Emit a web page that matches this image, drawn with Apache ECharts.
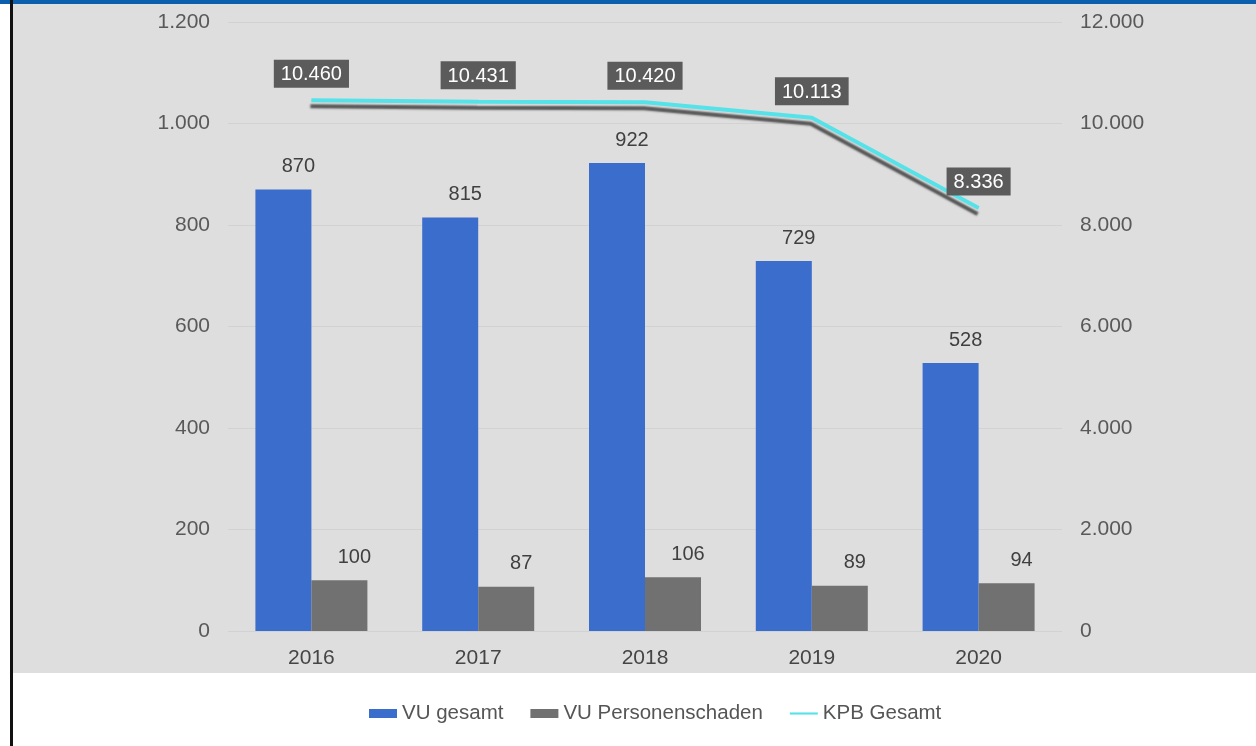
<!DOCTYPE html>
<html>
<head>
<meta charset="utf-8">
<script src="https://cdn.jsdelivr.net/npm/echarts@6/dist/echarts.min.js"></script>
<style>
  html, body { margin: 0; padding: 0; background: #ffffff; }
  #wrap { position: relative; width: 1256px; height: 746px; overflow: hidden; background: #ffffff; }
  #panel { position: absolute; left: 13px; top: 0; width: 1243px; height: 673px; background: #dedede; }
  #topbar { position: absolute; left: 0; top: 0; width: 1256px; height: 4px; background: #0b5fac; }
  #edge { position: absolute; left: 10px; top: 0; width: 3px; height: 746px; background: #111111; }
  #chart { position: absolute; left: 0; top: 0; width: 1256px; height: 746px; }
</style>
</head>
<body>
<div id="wrap">
  <div id="panel"></div>
  <div id="topbar"></div>
  <div id="edge"></div>
  <div id="chart"></div>
</div>
<script>
// Verkehrsunfälle und Kontrollen, 2016–2020
const years = ['2016', '2017', '2018', '2019', '2020'];
const vuGesamt = [870, 815, 922, 729, 528];
const vuPersonenschaden = [100, 87, 106, 89, 94];
const kpbGesamt = [10460, 10431, 10420, 10113, 8336];

const FONT = "'Liberation Sans', Arial, sans-serif";

// German thousands separator: 10460 -> 10.460
function fmt(v) {
  return String(v).replace(/\B(?=(\d{3})+(?!\d))/g, '.');
}

const chart = echarts.init(document.getElementById('chart'), null, { renderer: 'canvas' });

const barLabel = {
  show: true,
  position: 'top',
  distance: 13,
  offset: [15, 0],
  color: '#404040',
  fontSize: 20,
  fontFamily: FONT,
  formatter: p => fmt(p.value)
};

chart.setOption({
  backgroundColor: 'transparent',
  animation: false,
  textStyle: { fontFamily: FONT },
  grid: { left: 228, right: 194, top: 22, bottom: 115 },
  legend: {
    bottom: 17,
    left: 364,
    itemWidth: 28,
    itemHeight: 9,
    itemGap: 27,
    textStyle: { fontSize: 20.5, color: '#555555', fontFamily: FONT },
    data: [
      { name: 'VU gesamt', icon: 'rect' },
      { name: 'VU Personenschaden', icon: 'rect' },
      { name: 'KPB Gesamt', icon: 'path://M0,0 L120,0 L120,9 L0,9 Z' }
    ]
  },
  xAxis: {
    type: 'category',
    data: years,
    axisLine: { show: false },
    axisTick: { show: false },
    axisLabel: { color: '#454545', fontSize: 21, margin: 17, fontFamily: FONT }
  },
  yAxis: [
    {
      type: 'value',
      min: 0,
      max: 1200,
      interval: 200,
      axisLine: { show: false },
      axisTick: { show: false },
      axisLabel: { color: '#595959', fontSize: 21, margin: 18, fontFamily: FONT, formatter: fmt },
      splitLine: { lineStyle: { color: '#d2d2d2', width: 1 } }
    },
    {
      type: 'value',
      min: 0,
      max: 12000,
      interval: 2000,
      position: 'right',
      axisLine: { show: false },
      axisTick: { show: false },
      axisLabel: { color: '#595959', fontSize: 21, margin: 18, fontFamily: FONT, formatter: fmt },
      splitLine: { show: false }
    }
  ],
  series: [
    {
      name: 'VU gesamt',
      type: 'bar',
      data: vuGesamt,
      barWidth: 56,
      barGap: '0%',
      itemStyle: { color: '#3b6dcc' },
      label: barLabel
    },
    {
      name: 'VU Personenschaden',
      type: 'bar',
      data: vuPersonenschaden,
      barWidth: 56,
      barGap: '0%',
      itemStyle: { color: '#717171' },
      label: barLabel
    },
    {
      name: 'KPB Gesamt',
      type: 'line',
      yAxisIndex: 1,
      data: kpbGesamt,
      z: 5,
      symbol: 'circle',
      symbolSize: 1,
      itemStyle: { color: '#55e2e8' },
      lineStyle: {
        color: '#55e2e8',
        width: 4,
        shadowColor: 'rgba(70,70,70,0.9)',
        shadowBlur: 2,
        shadowOffsetX: -1,
        shadowOffsetY: 6
      },
      label: {
        show: true,
        position: 'top',
        distance: 12,
        color: '#ffffff',
        backgroundColor: '#5b5b5b',
        padding: [5, 7, 3, 7],
        fontSize: 20,
        fontFamily: FONT,
        formatter: p => fmt(p.value)
      }
    }
  ]
});
</script>
</body>
</html>
